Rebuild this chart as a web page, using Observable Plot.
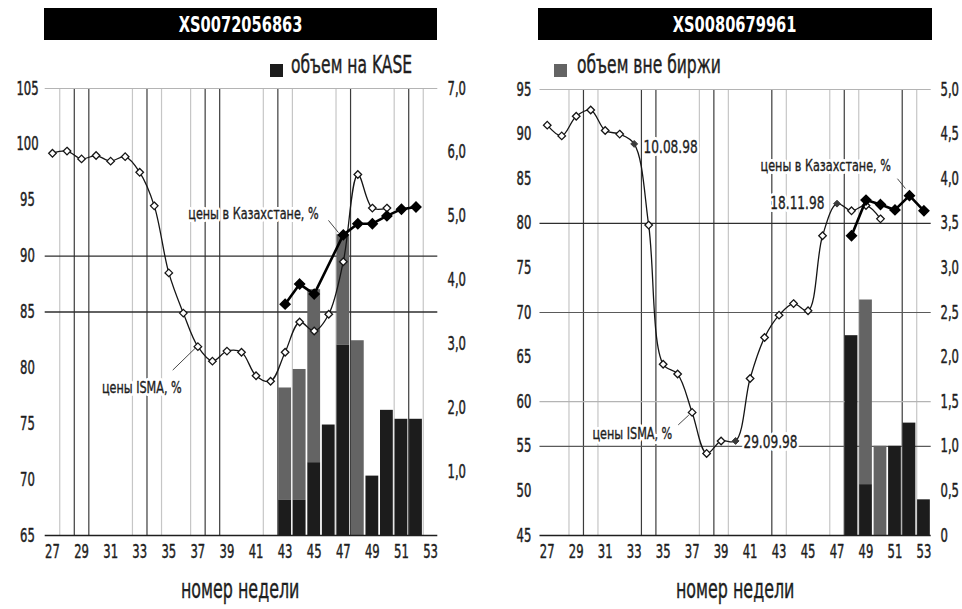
<!DOCTYPE html>
<html><head><meta charset="utf-8">
<script src="https://cdn.jsdelivr.net/npm/d3@7"></script>
<script src="https://cdn.jsdelivr.net/npm/@observablehq/plot@0.6"></script>
<style>
body{margin:0;background:#fff;}
#wrap{position:relative;width:962px;height:609px;overflow:hidden;font-family:"Liberation Sans Narrow","DejaVu Sans Condensed",sans-serif;color:#1e1e1e;}
.panel{position:absolute;top:0;}
.title{position:absolute;top:8px;height:32px;background:#000;color:#fff;display:flex;align-items:center;justify-content:center;font-weight:bold;font-size:22px;z-index:2;}
.title span{display:inline-block;transform:scaleX(0.74);}
.leg{position:absolute;top:51px;height:28px;line-height:28px;font-size:24px;white-space:nowrap;z-index:2;-webkit-text-stroke:0.4px #1e1e1e;}
.leg span{display:inline-block;transform:scaleX(0.72);transform-origin:left center;}
.sq{position:absolute;top:64px;width:13px;height:13px;z-index:2;}
.xl{position:absolute;top:574px;height:30px;line-height:30px;font-size:26px;width:200px;text-align:center;white-space:nowrap;z-index:2;-webkit-text-stroke:0.4px #1e1e1e;}
.xl span{display:inline-block;transform:scaleX(0.68);}
</style></head>
<body>
<div id="wrap">
  <div class="title" style="left:44px;width:393px"><span id="t1"></span></div>
  <div class="title" style="left:538px;width:394px"><span id="t2"></span></div>
  <div class="sq" style="left:270px;background:#1c1c1c"></div>
  <div class="leg" style="left:291px"><span id="l1"></span></div>
  <div class="sq" style="left:554px;background:#646464"></div>
  <div class="leg" style="left:577px"><span id="l2"></span></div>
  <div class="xl" style="left:140px"><span id="x1"></span></div>
  <div class="xl" style="left:635px"><span id="x2"></span></div>
</div>
<script>
const FONT = "'Liberation Sans Narrow','DejaVu Sans Condensed',sans-serif";
// ---------- shared ----------
const weekTicks = [27,29,31,33,35,37,39,41,43,45,47,49,51,53];
const xLabel = "номер недели";
const legendKase = "объем на KASE";
const legendOtc = "объем вне биржи";

// ---------- left panel: XS0072056863 ----------
const titleL = "XS0072056863";
const yTicksL = [65,70,75,80,85,90,95,100,105];
const rTicksL = [1,2,3,4,5,6,7];
const hDarkL = [90,85];
const hMidL = [];
const hLightL = [105];
const vDarkL = [28.5,29.5,33.5,37.5,38.5,42.5,47.5,51.5];
const vLightL = [27.5,32.5,34.5,36.5,41.5,43.5,46.5,50.5,52.5];
const barWeeksL = [43,44,45,46,47,48,49,50,51,52];
const kaseL = [0.55,0.55,1.14,1.73,2.98,0,0.93,1.96,1.82,1.82];
const otcL  = [1.76,2.05,2.71,0,1.73,3.05,0,0,0,0];
const ismaWeeksL = [27,28,29,30,31,32,33,34,35,36,37,38,39,40,41,42,43,44,45,46,47,48,49,50];
const ismaL = [99.2,99.4,98.7,99.0,98.5,98.9,97.5,94.5,88.5,84.9,81.9,80.6,81.5,81.4,79.3,78.8,81.4,84.1,83.3,84.8,89.5,97.3,94.3,94.3];
const markedWeeksL = [];
const kzWeeksL = [43,44,45,47,48,49,50,51,52];
const kzL = [85.7,87.5,86.6,91.9,92.9,92.9,93.6,94.2,94.4];
const annTextL = ["цены в Казахстане, %","цены ISMA, %"];
const annWeekL = [45.3,30.4];
const annValL  = [93.8,78.2];
const annAnchorL = ["end","start"];
const annSizeL = [16,16];
const leadL = [{w1:45.98,v1:93.2,w2:46.67,v2:92.1},{w1:35.27,v1:79.8,w2:36.85,v2:81.8}];

// ---------- right panel: XS0080679961 ----------
const titleR = "XS0080679961";
const yTicksR = [45,50,55,60,65,70,75,80,85,90,95];
const rTicksR = [0,0.5,1,1.5,2,2.5,3,3.5,4,4.5,5];
const hDarkR = [80];
const hMidR = [70,55];
const hLightR = [95,60];
const vDarkR = [29.5,33.5,34.5,38.5,42.5,47.5,51.5];
const vLightR = [28.5,30.5,37.5,39.5,43.5,46.5,48.5,52.5];
const barWeeksR = [48,49,50,51,52,53];
const kaseR = [2.24,0.57,0,1.0,1.26,0.40];
const otcR  = [0,2.07,1.0,0,0,0];
const ismaWeeksR = [27,28,29,30,31,32,33,34,35,36,37,38,39,40,41,42,43,44,45,46,47,48,49,50];
const ismaR = [91.0,89.8,92.0,92.7,90.4,90.0,88.9,79.8,64.2,63.1,58.8,54.2,55.6,55.6,62.6,67.2,69.7,71.0,70.2,78.6,82.2,81.4,82.0,80.5];
const markedWeeksR = [33,40,47];
const kzWeeksR = [48,49,50,51,52,53];
const kzR = [78.6,82.6,82.1,81.5,83.1,81.4];
const annTextR = ["10.08.98","цены в Казахстане, %","18.11.98","цены ISMA, %","29.09.98"];
const annWeekR = [33.65,41.72,42.4,30.12,40.54];
const annValR  = [88.5,86.4,82.2,56.4,55.5];
const annAnchorR = ["start","start","start","start","start"];
const annSizeR = [18,16,18,16,18];
const leadR = [{w1:51.17,v1:85.0,w2:51.72,v2:83.9},{w1:36.04,v1:57.4,w2:36.77,v2:58.5}];

function panel(o) {
  const conv = v => o.yMin + v * o.k;
  const bars = o.barWeeks.map((w, i) => ({w, kase: o.kase[i], otc: o.otc[i]}));
  const isma = o.ismaWeeks.map((w, i) => ({w, v: o.isma[i], m: o.marked.includes(w)}));
  const kz = o.kzWeeks.map((w, i) => ({w, v: o.kz[i]}));
  const ann = o.annText.map((t, i) => ({t, w: o.annWeek[i], v: o.annVal[i], a: o.annAnchor[i], s: o.annSize[i]}));
  const fmt = d => d === 0 ? "0" : d.toFixed(1).replace(".", ",");
  const hw = 0.44;
  const ink = "#1e1e1e";
  const annMarks = [];
  for (const anchor of ["start", "end"]) {
    const rows = ann.filter(d => d.a === anchor);
    annMarks.push(Plot.text(rows, {x: "w", y: "v", text: "t", textAnchor: anchor, fontSize: d => d.s, fill: "white", stroke: "white", strokeWidth: 6}));
    annMarks.push(Plot.text(rows, {x: "w", y: "v", text: "t", textAnchor: anchor, fontSize: d => d.s, fill: ink, stroke: ink, strokeWidth: 0.35}));
  }
  return Plot.plot({
    width: 481, height: 609,
    marginLeft: o.ml, marginRight: o.mr, marginTop: o.mt, marginBottom: 74,
    x: {type: "linear", domain: [26.5, 53.5], axis: null},
    y: {type: "linear", domain: [o.yMin, o.yMax], axis: null},
    style: {fontFamily: FONT, background: "transparent", overflow: "visible", color: ink},
    marks: [
      Plot.ruleX(o.vLight, {stroke: "#c6c6c6", strokeWidth: 1.2}),
      Plot.ruleX(o.vDark, {stroke: "#3c3c3c", strokeWidth: 1.2}),
      Plot.ruleY(o.hLight, {stroke: "#b4b4b4", strokeWidth: 1.2}),
      Plot.ruleY(o.hMid, {stroke: "#5a5a5a", strokeWidth: 1.2}),
      Plot.ruleY(o.hDark, {stroke: "#2e2e2e", strokeWidth: 1.3}),
      Plot.rect(bars.filter(d => d.otc > 0), {x1: d => d.w - hw, x2: d => d.w + hw, y1: d => conv(d.kase), y2: d => conv(d.kase + d.otc), fill: "#646464"}),
      Plot.rect(bars.filter(d => d.kase > 0), {x1: d => d.w - hw, x2: d => d.w + hw, y1: d => conv(0), y2: d => conv(d.kase), fill: "#1c1c1c"}),
      Plot.ruleY([o.yMin], {stroke: ink, strokeWidth: 1.6}),
      Plot.line(isma, {x: "w", y: "v", stroke: "#151515", strokeWidth: 1.3, curve: "catmull-rom"}),
      Plot.dot(isma.filter(d => !d.m), {x: "w", y: "v", symbol: "diamond2", r: 3.4, fill: "white", stroke: "#151515", strokeWidth: 1.3}),
      Plot.dot(isma.filter(d => d.m), {x: "w", y: "v", symbol: "diamond2", r: 3.1, fill: "#3a3a3a", stroke: "#3a3a3a", strokeWidth: 1}),
      Plot.line(kz, {x: "w", y: "v", stroke: "#000", strokeWidth: 2.6}),
      Plot.dot(kz, {x: "w", y: "v", symbol: "diamond2", r: 4.4, fill: "#000", stroke: "#000"}),
      Plot.link(o.lead, {x1: "w1", y1: "v1", x2: "w2", y2: "v2", stroke: "#333", strokeWidth: 0.9}),
      ...annMarks,
      Plot.text(o.yTicks, {y: d => d, text: d => String(d), frameAnchor: "left", dx: o.ldx, textAnchor: "middle", fontSize: 19, fill: ink, stroke: ink, strokeWidth: 0.45}),
      Plot.text(o.rTicks, {y: d => conv(d), text: fmt, frameAnchor: "right", dx: o.rdx, textAnchor: "start", fontSize: 19, fill: ink, stroke: ink, strokeWidth: 0.45}),
      Plot.text(weekTicks, {x: d => d, text: d => String(d), frameAnchor: "bottom", dy: 22, fontSize: 19, fill: ink, stroke: ink, strokeWidth: 0.45})
    ]
  });
}

const squeezeBySize = {19: 0.68, 18: 0.75, 16: 0.78};
function squeeze(svg) {
  svg.querySelectorAll("text").forEach(t => {
    const fs = Math.round(parseFloat(getComputedStyle(t).fontSize));
    const f = squeezeBySize[fs] || 0.78;
    const tr = t.getAttribute("transform") || "";
    t.setAttribute("transform", tr + " scale(" + f + ",1)");
  });
}

const wrap = document.getElementById("wrap");
const left = panel({
  yMin: 65, yMax: 105, k: 40/7, ml: 44.7, mr: 43.7, mt: 88, ldx: -17.7, rdx: 9.7,
  yTicks: yTicksL, rTicks: rTicksL, hDark: hDarkL, hMid: hMidL, hLight: hLightL, vDark: vDarkL, vLight: vLightL,
  barWeeks: barWeeksL, kase: kaseL, otc: otcL, ismaWeeks: ismaWeeksL, isma: ismaL, marked: markedWeeksL,
  kzWeeks: kzWeeksL, kz: kzL, annText: annTextL, annWeek: annWeekL, annVal: annValL, annAnchor: annAnchorL, annSize: annSizeL, lead: leadL
});
const right = panel({
  yMin: 45, yMax: 95, k: 10, ml: 58.5, mr: 31.3, mt: 89, ldx: -16, rdx: 9.3,
  yTicks: yTicksR, rTicks: rTicksR, hDark: hDarkR, hMid: hMidR, hLight: hLightR, vDark: vDarkR, vLight: vLightR,
  barWeeks: barWeeksR, kase: kaseR, otc: otcR, ismaWeeks: ismaWeeksR, isma: ismaR, marked: markedWeeksR,
  kzWeeks: kzWeeksR, kz: kzR, annText: annTextR, annWeek: annWeekR, annVal: annValR, annAnchor: annAnchorR, annSize: annSizeR, lead: leadR
});
left.classList.add("panel"); left.style.left = "0px";
right.classList.add("panel"); right.style.left = "481px";
wrap.appendChild(left); wrap.appendChild(right);
squeeze(left); squeeze(right);

document.getElementById("t1").textContent = titleL;
document.getElementById("t2").textContent = titleR;
document.getElementById("l1").textContent = legendKase;
document.getElementById("l2").textContent = legendOtc;
document.getElementById("x1").textContent = xLabel;
document.getElementById("x2").textContent = xLabel;
</script>
</body></html>
